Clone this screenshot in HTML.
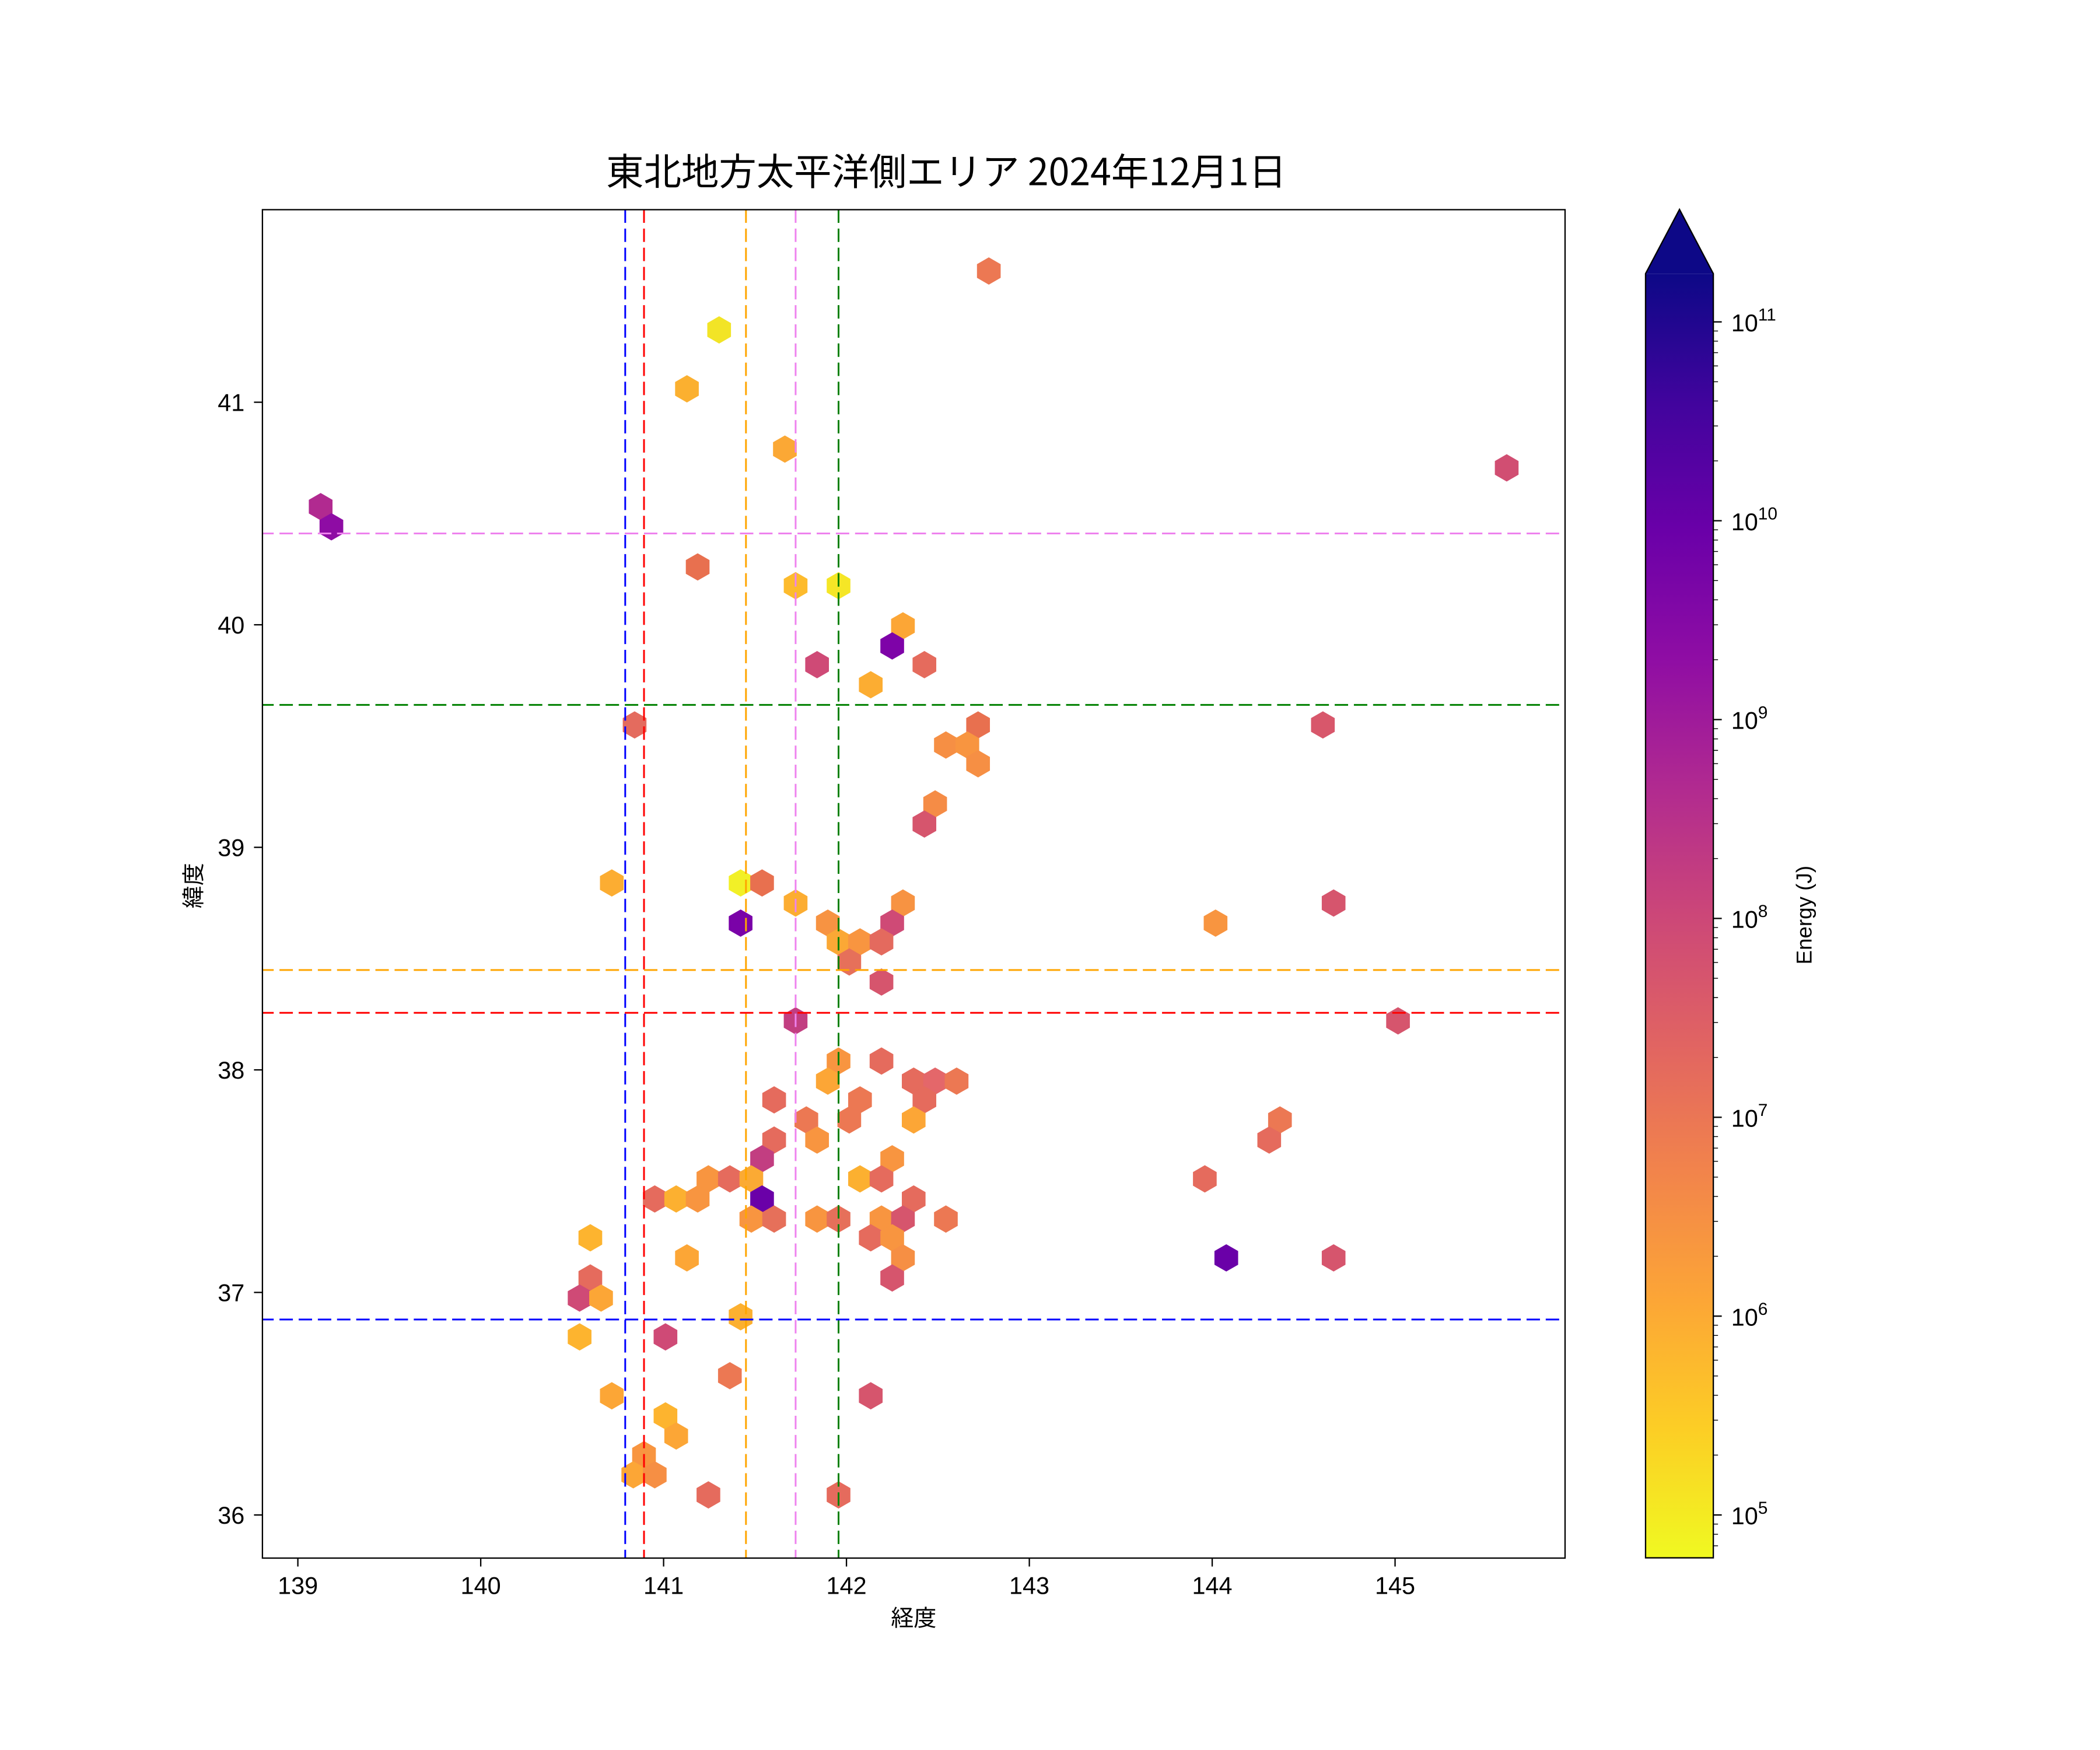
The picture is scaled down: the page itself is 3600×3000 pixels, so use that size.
<!DOCTYPE html>
<html><head><meta charset="utf-8"><style>html,body{margin:0;padding:0;background:#fff}svg{display:block}</style></head>
<body>
<svg xmlns="http://www.w3.org/2000/svg" width="3600" height="3000" viewBox="0 0 3600 3000">
<defs>
<path id="h" d="M0,-10.2 L8.83,-5.1 L8.83,5.1 L0,10.2 L-8.83,5.1 L-8.83,-5.1Z"/>
<linearGradient id="pl" x1="0" y1="0" x2="0" y2="1">
<stop offset="0" stop-color="#0d0887"/><stop offset="0.1" stop-color="#41049d"/><stop offset="0.2" stop-color="#6a00a8"/><stop offset="0.3" stop-color="#8f0da4"/><stop offset="0.4" stop-color="#b12a90"/><stop offset="0.5" stop-color="#cc4778"/><stop offset="0.6" stop-color="#e16462"/><stop offset="0.7" stop-color="#f2844b"/><stop offset="0.8" stop-color="#fca636"/><stop offset="0.9" stop-color="#fcce25"/><stop offset="1" stop-color="#f0f921"/>
</linearGradient>
<clipPath id="cb"><rect x="1200" y="205" width="100" height="959"/></clipPath>
<clipPath id="ax"><rect x="196.6" y="157.2" width="970.9" height="1007"/></clipPath>
<g id="mn" stroke="#000" stroke-width="0.6">
<line x1="1276.7" x2="1280.2" y1="-44.7" y2="-44.7"/><line x1="1276.7" x2="1280.2" y1="-70.8" y2="-70.8"/><line x1="1276.7" x2="1280.2" y1="-89.4" y2="-89.4"/><line x1="1276.7" x2="1280.2" y1="-103.8" y2="-103.8"/><line x1="1276.7" x2="1280.2" y1="-115.6" y2="-115.6"/><line x1="1276.7" x2="1280.2" y1="-125.5" y2="-125.5"/><line x1="1276.7" x2="1280.2" y1="-134.1" y2="-134.1"/><line x1="1276.7" x2="1280.2" y1="-141.7" y2="-141.7"/>
</g>
</defs>
<g transform="matrix(2.3,0,0,2.2955,0.7,-1.4)" font-family="'Liberation Sans','Noto Sans CJK JP',sans-serif">
<text x="705" y="139" font-size="28" text-anchor="middle" font-family="'Noto Sans CJK JP','Liberation Sans',sans-serif">東北地方太平洋側エリア 2024年12月1日</text>
<g transform="translate(-1.3,0)">
<g clip-path="url(#ax)">
<use href="#h" x="738" y="203" fill="#ec7853"/>
<use href="#h" x="537" y="247" fill="#f2e426"/>
<use href="#h" x="513" y="291" fill="#fbb030"/>
<use href="#h" x="586" y="336" fill="#fba835"/>
<use href="#h" x="1124" y="350" fill="#d14e72"/>
<use href="#h" x="240" y="379" fill="#b12a90"/>
<use href="#h" x="248" y="394" fill="#8e0ca4"/>
<use href="#h" x="521" y="424" fill="#e8704f"/>
<use href="#h" x="594" y="438" fill="#fdbb2d"/>
<use href="#h" x="626" y="438" fill="#f5e626"/>
<use href="#h" x="674" y="468" fill="#fca636"/>
<use href="#h" x="666" y="483" fill="#7e03a8"/>
<use href="#h" x="610" y="497" fill="#cf4a76"/>
<use href="#h" x="690" y="497" fill="#e56b5d"/>
<use href="#h" x="650" y="512" fill="#fcad32"/>
<use href="#h" x="474" y="542" fill="#e46b5e"/>
<use href="#h" x="730" y="542" fill="#e8704f"/>
<use href="#h" x="987" y="542" fill="#d8576b"/>
<use href="#h" x="706" y="557" fill="#f68f44"/>
<use href="#h" x="722" y="557" fill="#f89540"/>
<use href="#h" x="730" y="571" fill="#f68f44"/>
<use href="#h" x="698" y="601" fill="#f58c46"/>
<use href="#h" x="690" y="616" fill="#d6556d"/>
<use href="#h" x="457" y="660" fill="#fcad32"/>
<use href="#h" x="553" y="660" fill="#f2f027"/>
<use href="#h" x="569" y="660" fill="#e8704f"/>
<use href="#h" x="594" y="675" fill="#fcad32"/>
<use href="#h" x="674" y="675" fill="#f79342"/>
<use href="#h" x="995" y="675" fill="#d6556d"/>
<use href="#h" x="553" y="690" fill="#7a02a8"/>
<use href="#h" x="666" y="690" fill="#cf4a76"/>
<use href="#h" x="618" y="690" fill="#f79342"/>
<use href="#h" x="626" y="704" fill="#fba835"/>
<use href="#h" x="642" y="704" fill="#f89540"/>
<use href="#h" x="658" y="704" fill="#e46a5e"/>
<use href="#h" x="907" y="690" fill="#f89540"/>
<use href="#h" x="634" y="719" fill="#e6705a"/>
<use href="#h" x="658" y="734" fill="#d6556d"/>
<use href="#h" x="594" y="763" fill="#c23e81"/>
<use href="#h" x="1043" y="763" fill="#d6556d"/>
<use href="#h" x="626" y="793" fill="#f89540"/>
<use href="#h" x="658" y="793" fill="#e56b5d"/>
<use href="#h" x="618" y="808" fill="#fca636"/>
<use href="#h" x="682" y="808" fill="#e56b5d"/>
<use href="#h" x="698" y="808" fill="#e4676a"/>
<use href="#h" x="714" y="808" fill="#ec7853"/>
<use href="#h" x="578" y="822" fill="#e56b5d"/>
<use href="#h" x="642" y="822" fill="#ec7853"/>
<use href="#h" x="690" y="822" fill="#e56b5d"/>
<use href="#h" x="602" y="837" fill="#ec7853"/>
<use href="#h" x="634" y="837" fill="#ec7853"/>
<use href="#h" x="682" y="837" fill="#fca636"/>
<use href="#h" x="955" y="837" fill="#ec7853"/>
<use href="#h" x="578" y="852" fill="#e56b5d"/>
<use href="#h" x="610" y="852" fill="#f89540"/>
<use href="#h" x="947" y="852" fill="#e56b5d"/>
<use href="#h" x="569" y="866" fill="#c23e81"/>
<use href="#h" x="666" y="866" fill="#f89540"/>
<use href="#h" x="529" y="881" fill="#f89540"/>
<use href="#h" x="545" y="881" fill="#e56b5d"/>
<use href="#h" x="561" y="881" fill="#fbaa34"/>
<use href="#h" x="642" y="881" fill="#fcb030"/>
<use href="#h" x="658" y="881" fill="#e56b5d"/>
<use href="#h" x="899" y="881" fill="#e56b5d"/>
<use href="#h" x="489" y="896" fill="#e56b5d"/>
<use href="#h" x="505" y="896" fill="#fcb030"/>
<use href="#h" x="521" y="896" fill="#f89540"/>
<use href="#h" x="569" y="896" fill="#6a00a8"/>
<use href="#h" x="682" y="896" fill="#e56b5d"/>
<use href="#h" x="561" y="911" fill="#f89540"/>
<use href="#h" x="578" y="911" fill="#e6705a"/>
<use href="#h" x="610" y="911" fill="#f89540"/>
<use href="#h" x="626" y="911" fill="#e6705a"/>
<use href="#h" x="658" y="911" fill="#f89540"/>
<use href="#h" x="674" y="911" fill="#d6556d"/>
<use href="#h" x="706" y="911" fill="#ec7853"/>
<use href="#h" x="650" y="925" fill="#e56b5d"/>
<use href="#h" x="666" y="925" fill="#f89540"/>
<use href="#h" x="513" y="940" fill="#fca636"/>
<use href="#h" x="674" y="940" fill="#f68f44"/>
<use href="#h" x="915" y="940" fill="#6a00a8"/>
<use href="#h" x="995" y="940" fill="#d6556d"/>
<use href="#h" x="441" y="925" fill="#fdb42f"/>
<use href="#h" x="441" y="955" fill="#e56b5d"/>
<use href="#h" x="666" y="955" fill="#d6556d"/>
<use href="#h" x="433" y="970" fill="#cf4a76"/>
<use href="#h" x="449" y="970" fill="#fca636"/>
<use href="#h" x="553" y="984" fill="#fcb030"/>
<use href="#h" x="433" y="999" fill="#fdb42f"/>
<use href="#h" x="497" y="999" fill="#cf4a76"/>
<use href="#h" x="545" y="1028" fill="#ec7853"/>
<use href="#h" x="650" y="1043" fill="#d6556d"/>
<use href="#h" x="457" y="1043" fill="#fca636"/>
<use href="#h" x="497" y="1058" fill="#fdb42f"/>
<use href="#h" x="505" y="1073" fill="#fca636"/>
<use href="#h" x="481" y="1087" fill="#f89540"/>
<use href="#h" x="473" y="1102" fill="#fca636"/>
<use href="#h" x="489" y="1102" fill="#f68f44"/>
<use href="#h" x="529" y="1117" fill="#e56b5d"/>
<use href="#h" x="626" y="1117" fill="#e56b5d"/>
<g fill="none" stroke-width="1.3" stroke-dasharray="10 4.3">
<line x1="467" x2="467" y1="157" y2="1165" stroke="#0000ff"/>
<line x1="481" x2="481" y1="157" y2="1165" stroke="#ff0000"/>
<line x1="557" x2="557" y1="157" y2="1165" stroke="#ffa500"/>
<line x1="594" x2="594" y1="157" y2="1165" stroke="#ee82ee"/>
<line x1="626" x2="626" y1="157" y2="1165" stroke="#008000"/>
<line y1="399" y2="399" x1="195" x2="1169" stroke="#ee82ee"/>
<line y1="527" y2="527" x1="195" x2="1169" stroke="#008000"/>
<line y1="725" y2="725" x1="195" x2="1169" stroke="#ffa500"/>
<line y1="757" y2="757" x1="195" x2="1169" stroke="#ff0000"/>
<line y1="986" y2="986" x1="195" x2="1169" stroke="#0000ff"/>
</g>
</g>
<g stroke="#000" stroke-width="1">
<line x1="223" x2="223" y1="1164.2" y2="1170.5"/><line x1="359.3" x2="359.3" y1="1164.2" y2="1170.5"/><line x1="495.6" x2="495.6" y1="1164.2" y2="1170.5"/><line x1="631.9" x2="631.9" y1="1164.2" y2="1170.5"/><line x1="768.2" x2="768.2" y1="1164.2" y2="1170.5"/><line x1="904.5" x2="904.5" y1="1164.2" y2="1170.5"/><line x1="1040.8" x2="1040.8" y1="1164.2" y2="1170.5"/>
</g>
<g font-size="18" text-anchor="middle">
<text x="223" y="1191">139</text><text x="359.3" y="1191">140</text><text x="495.6" y="1191">141</text><text x="631.9" y="1191">142</text><text x="768.2" y="1191">143</text><text x="904.5" y="1191">144</text><text x="1040.8" y="1191">145</text>
</g>
<text x="682" y="1215" font-size="17" text-anchor="middle">経度</text>
</g>
<rect x="195.3" y="157.2" width="970.9" height="1007" fill="none" stroke="#000" stroke-width="1"/>
<g stroke="#000" stroke-width="1">
<line x1="189" x2="195.3" y1="301" y2="301"/><line x1="189" x2="195.3" y1="467.2" y2="467.2"/><line x1="189" x2="195.3" y1="633.4" y2="633.4"/><line x1="189" x2="195.3" y1="799.6" y2="799.6"/><line x1="189" x2="195.3" y1="965.8" y2="965.8"/><line x1="189" x2="195.3" y1="1132" y2="1132"/>
</g>
<g font-size="18" text-anchor="end">
<text x="182" y="307.5">41</text><text x="182" y="473.7">40</text><text x="182" y="639.9">39</text><text x="182" y="806.1">38</text><text x="182" y="972.3">37</text><text x="182" y="1138.5">36</text>
</g>
<text transform="translate(150,662) rotate(-90)" font-size="17" text-anchor="middle">緯度</text>
<rect x="1226.2" y="205" width="50.5" height="959" fill="url(#pl)"/>
<path d="M1226.2,205 L1251.5,157 L1276.7,205Z" fill="#0d0887"/>
<path d="M1226.2,1164 L1226.2,205 L1251.5,157 L1276.7,205 L1276.7,1164Z" fill="none" stroke="#000" stroke-width="1"/>
<g clip-path="url(#cb)">
<use href="#mn" y="1280.5"/><use href="#mn" y="1132"/><use href="#mn" y="983.5"/><use href="#mn" y="835"/><use href="#mn" y="686.5"/><use href="#mn" y="538"/><use href="#mn" y="389.5"/><use href="#mn" y="241"/>
</g>
<g stroke="#000" stroke-width="1">
<line x1="1276.7" x2="1283" y1="241" y2="241"/><line x1="1276.7" x2="1283" y1="389.5" y2="389.5"/><line x1="1276.7" x2="1283" y1="538" y2="538"/><line x1="1276.7" x2="1283" y1="686.5" y2="686.5"/><line x1="1276.7" x2="1283" y1="835" y2="835"/><line x1="1276.7" x2="1283" y1="983.5" y2="983.5"/><line x1="1276.7" x2="1283" y1="1132" y2="1132"/>
</g>
<g font-size="18">
<text x="1290" y="248">10<tspan dy="-8" font-size="13">11</tspan></text>
<text x="1290" y="396.5">10<tspan dy="-8" font-size="13">10</tspan></text>
<text x="1290" y="545">10<tspan dy="-8" font-size="13">9</tspan></text>
<text x="1290" y="693.5">10<tspan dy="-8" font-size="13">8</tspan></text>
<text x="1290" y="842">10<tspan dy="-8" font-size="13">7</tspan></text>
<text x="1290" y="990.5">10<tspan dy="-8" font-size="13">6</tspan></text>
<text x="1290" y="1139">10<tspan dy="-8" font-size="13">5</tspan></text>
</g>
<text transform="translate(1350,684) rotate(-90)" font-size="16" text-anchor="middle">Energy (J)</text>
</g>
</svg>
</body></html>
